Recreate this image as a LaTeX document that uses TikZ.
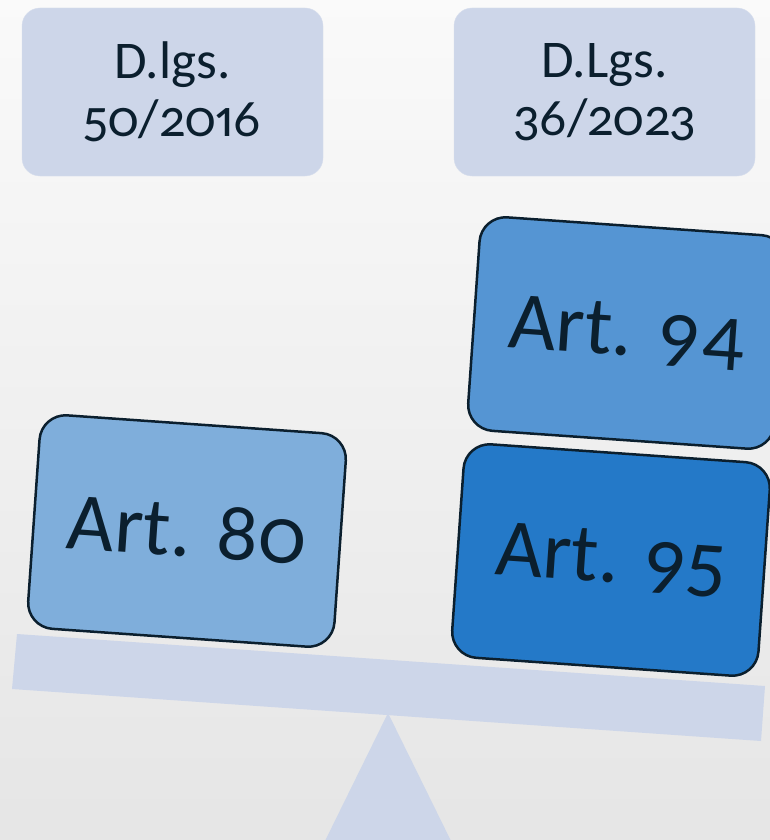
\documentclass[tikz,border=0pt]{standalone}
\usepackage{fontspec}
\setmainfont{Carlito}[Numbers={OldStyle,Proportional}]
\usetikzlibrary{positioning}

\definecolor{inkdark}{HTML}{0B1F2E}
\definecolor{palebox}{HTML}{CDD6E9}
\definecolor{artlight}{HTML}{7FAEDB}
\definecolor{artmid}{HTML}{5595D3}
\definecolor{artdeep}{HTML}{2479C8}

\tikzset{
  lawbox/.style={rectangle, rounded corners=18pt, fill=palebox, draw=palebox!80!white,
    minimum width=301pt, minimum height=168pt, align=center, text=inkdark,
    font=\fontsize{53}{58}\selectfont},
  artbox/.style={rectangle, rounded corners=26pt, draw=inkdark, line width=2.5pt,
    minimum width=307pt, minimum height=214pt, text=inkdark, rotate=-4,
    font=\fontsize{82}{90}\selectfont}
}

\begin{document}
\begin{tikzpicture}[x=1pt, y=-1pt]
\useasboundingbox (0,0) rectangle (770,840);
\shade[top color=white!98!black, bottom color=black!10] (0,0) rectangle (770,840);

% fulcrum and beam
\fill[palebox] (388,713) -- (453,845) -- (323,845) -- cycle;
\fill[palebox] (17,634) -- (765,686) -- (761,741) -- (12,689) -- cycle;

\node[lawbox] (old) at (172.5,92) {D.lgs.\\50/2016};
\node[lawbox] (new) at (604.5,92) {D.Lgs.\\36/2023};

\node[artbox, fill=artlight] (a80) at (187,531) {Art. 80};
\node[artbox, fill=artmid] (a94) at (627,333) {Art. 94};
\node[artbox, fill=artdeep] (a95) at (611,560) {Art. 95};

\end{tikzpicture}
\end{document}
